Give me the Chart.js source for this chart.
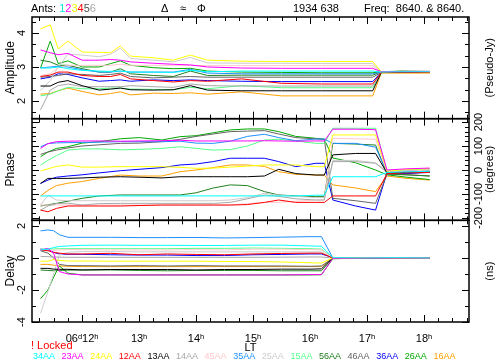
<!DOCTYPE html>
<html>
<head>
<meta charset="utf-8">
<script src="https://cdn.jsdelivr.net/npm/chart.js@4.4.0/dist/chart.umd.min.js"></script>
<style>
  body { margin: 0; background: #fff; }
  #wrap { position: relative; width: 500px; height: 364px; font-family: 'Liberation Sans', sans-serif; font-size: 11px; color: #000; }
  #wrap canvas { position: absolute; left: 0; top: 0; }
  .t { position: absolute; white-space: pre; line-height: 12px; }
  .leg { position: absolute; top: 351px; font-family: 'Liberation Sans Narrow', 'Liberation Sans', sans-serif; font-size: 9px; line-height: 10px; white-space: pre; }
</style>
</head>
<body>
<div id="wrap">
  <canvas id="chart" width="500" height="364"></canvas>
  <span class="t" style="left:31px;top:2px">Ants: <span style="color:#00e8e8">1</span><span style="color:#ff00ff">2</span><span style="color:#f0f000">3</span><span style="color:#ff0000">4</span><span style="color:#505050">5</span><span style="color:#a8a8a8">6</span></span>
  <span class="t" style="left:161px;top:2px">Δ</span>
  <span class="t" style="left:180px;top:2px">≈</span>
  <span class="t" style="left:197px;top:2px">Φ</span>
  <span class="t" style="left:293px;top:2px">1934 638</span>
  <span class="t" style="left:364px;top:2px">Freq:  8640. &amp; 8640.</span>
  <span class="t" style="left:31px;top:339px;color:#ff0000">! Locked</span>
  <div id="legend"></div>
</div>
<script>
// baselines in legend order
const baselines = ['34AA', '23AA', '24AA', '12AA', '13AA', '14AA', '45AA', '35AA', '25AA', '15AA', '56AA', '46AA', '36AA', '26AA', '16AA'];
const lineColors = ['#00ffff', '#ff00ff', '#ffff00', '#ff0000', '#000000', '#a8a8a8', '#ffc8cc', '#1e90ff',
                    '#cccccc', '#55ff88', '#208020', '#646464', '#0000ff', '#00a800', '#ffa000'];

// time in hours (LT)
const ampTimes   = [11.27, 11.44, 11.58, 11.75, 12.0, 12.3, 12.5, 12.67, 12.85, 13.25, 13.6, 13.9, 14.2, 14.8, 15.5, 16.2, 17.1, 17.25, 17.6, 18.1];
const phaseTimes = [11.27, 11.4, 11.55, 11.75, 12.0, 12.3, 12.67, 13.0, 13.4, 13.72, 14.0, 14.3, 14.6, 14.9, 15.2, 15.45, 15.75, 16.1, 16.25, 16.4, 16.8, 17.15, 17.35, 17.7, 18.1];
const delayTimes = [11.27, 11.4, 11.5, 11.6, 11.75, 12.0, 12.5, 13.0, 13.5, 14.0, 14.5, 15.0, 15.5, 16.0, 16.2, 16.4, 17.0, 17.5, 18.1];

// amplitude (Pseudo-Jy)
const amp34AA = [2.97, 2.97, 3.0, 2.95, 2.9, 2.88, 2.87, 2.88, 2.85, 2.85, 2.84, 2.9, 2.86, 2.88, 2.88, 2.88, 2.88, 2.85, 2.86, 2.86];
const amp23AA = [3.5, 3.42, 3.36, 3.4, 3.2, 3.2, 3.22, 3.2, 3.15, 3.11, 3.08, 3.06, 3.0, 2.97, 2.96, 2.96, 2.96, 2.86, 2.87, 2.87];
const amp24AA = [4.12, 4.24, 3.53, 3.76, 3.44, 3.43, 3.42, 3.62, 3.32, 3.27, 3.2, 3.35, 3.2, 3.17, 3.16, 3.16, 3.16, 2.86, 2.87, 2.86];
const amp12AA = [2.72, 2.76, 2.85, 2.85, 2.75, 2.72, 2.72, 2.78, 2.65, 2.6, 2.56, 2.6, 2.58, 2.65, 2.52, 2.5, 2.5, 2.84, 2.85, 2.84];
const amp13AA = [2.44, 2.44, 2.55, 2.6, 2.45, 2.32, 2.35, 2.38, 2.33, 2.32, 2.33, 2.45, 2.32, 2.3, 2.3, 2.3, 2.3, 2.84, 2.85, 2.85];
const amp14AA = [1.74, 2.32, 2.45, 2.5, 2.42, 2.42, 2.42, 2.42, 2.45, 2.42, 2.4, 2.5, 2.45, 2.44, 2.44, 2.44, 2.44, 2.84, 2.85, 2.85];
const amp45AA = [2.75, 2.8, 2.98, 3.05, 3.05, 3.05, 3.05, 3.08, 3.05, 3.05, 3.05, 3.05, 3.04, 3.04, 3.04, 3.04, 3.04, 2.84, 2.85, 2.85];
const amp35AA = [2.97, 3.0, 3.02, 3.0, 2.92, 2.85, 2.85, 2.88, 2.85, 2.85, 2.85, 2.93, 2.82, 2.8, 2.8, 2.8, 2.8, 2.85, 2.85, 2.84];
const amp25AA = [2.3, 2.6, 3.0, 3.38, 3.35, 3.3, 3.38, 3.55, 3.25, 3.2, 3.15, 3.28, 3.12, 3.11, 3.11, 3.1, 3.1, 2.85, 2.86, 2.86];
const amp15AA = [2.15, 2.2, 2.3, 2.4, 2.36, 2.36, 2.38, 2.38, 2.35, 2.34, 2.33, 2.4, 2.36, 2.45, 2.39, 2.39, 2.39, 2.83, 2.84, 2.84];
const amp56AA = [3.2, 3.15, 3.05, 3.05, 2.95, 2.85, 2.85, 2.95, 2.8, 2.75, 2.72, 2.88, 2.75, 2.76, 2.76, 2.76, 2.76, 2.86, 2.87, 2.86];
const amp46AA = [2.7, 2.72, 2.75, 2.8, 2.78, 2.75, 2.78, 2.82, 2.72, 2.68, 2.7, 2.72, 2.7, 2.7, 2.7, 2.7, 2.7, 2.84, 2.85, 2.85];
const amp36AA = [2.65, 2.7, 2.8, 2.78, 2.68, 2.58, 2.6, 2.62, 2.58, 2.62, 2.6, 2.62, 2.6, 2.58, 2.57, 2.57, 2.57, 2.85, 2.86, 2.85];
const amp26AA = [2.97, 3.76, 3.1, 3.18, 3.0, 3.0, 3.1, 3.18, 3.05, 2.98, 2.95, 2.96, 2.88, 2.85, 2.84, 2.83, 2.83, 2.86, 2.88, 2.87];
const amp16AA = [2.2, 2.22, 2.3, 2.38, 2.28, 2.18, 2.22, 2.27, 2.18, 2.23, 2.22, 2.24, 2.2, 2.27, 2.15, 2.15, 2.15, 2.82, 2.82, 2.82];

// phase (degrees)
const ph34AA = [-108, -108, -108, -108, -108, -108, -108, -108, -108, -108, -108, -108, -108, -108, -108, -108, -108, -105, -105, -28, -28, -28, -10, -8, -5];
const ph23AA = [90, 110, 118, 120, 121, 121, 120, 121, 122, 124, 121, 121, 121, 121, 122, 121, 120, 121, 121, 170, 170, 168, 0, 5, 8];
const ph24AA = [-4, 5, 15, 21, 12, 12, 14, 14, 14, 11, 7, 8, 12, 16, 21, 21, 21, 14, 14, 146, 146, 146, -5, 3, 5];
const ph12AA = [-167, -174, -160, -150, -150, -150, -150, -148, -146, -146, -146, -146, -146, -144, -135, -125, -135, -135, -135, -108, -108, -108, -15, -12, -10];
const ph13AA = [-56, -35, -35, -35, -33, -30, -28, -30, -33, -28, -28, -28, -28, -28, -25, 3, -15, -21, -21, 63, 69, 69, -12, -10, -8];
const ph14AA = [-167, -150, -140, -138, -146, -140, -139, -139, -139, -139, -139, -139, -135, -120, -104, -110, -120, -125, -125, 35, 35, 28, -10, -8, -5];
const ph45AA = [-146, -146, -146, -146, -146, -146, -146, -146, -146, -146, -146, -146, -146, -140, -135, -135, -130, -125, -125, 132, 130, 128, -8, -5, 0];
const ph35AA = [97, 110, 113, 114, 115, 116, 118, 118, 118, 120, 112, 111, 120, 140, 149, 135, 122, 129, 129, 111, 111, 95, -10, -5, 0];
const ph25AA = [-146, -105, -125, -128, -128, -128, -128, -128, -128, -128, -128, -128, -125, -115, -97, -105, -110, -115, -115, 40, 40, 30, -5, -3, 0];
const ph15AA = [21, 40, 60, 83, 88, 88, 84, 86, 90, 97, 90, 83, 85, 100, 125, 128, 121, 111, 111, 174, 174, 174, -5, 0, 5];
const ph56AA = [-150, -145, -139, -130, -118, -108, -104, -104, -104, -104, -95, -75, -62, -65, -90, -104, -108, -111, -111, 111, 108, 104, -15, -20, -25];
const ph46AA = [65, 75, 83, 92, 100, 105, 111, 112, 118, 128, 140, 150, 160, 162, 164, 150, 135, 130, 128, -118, -128, -139, -18, -20, -25];
const ph36AA = [-56, -42, -30, -25, -20, -12, -3, 3, 10, 21, 25, 35, 49, 49, 49, 35, 14, 28, 28, -125, -150, -167, -12, -15, -10];
const ph26AA = [55, 75, 90, 97, 112, 118, 130, 135, 125, 139, 143, 155, 167, 171, 171, 160, 140, 132, 128, 50, 30, 0, -20, -30, -40];
const ph16AA = [-108, -85, -65, -55, -48, -35, -21, -25, -25, -7, 0, 10, 21, 21, 15, -7, -18, -21, -21, -62, -75, -90, -25, -35, -42];

// delay (ns)
const dl34AA = [0.5, 0.55, 0.65, 0.72, 0.75, 0.79, 0.8, 0.79, 0.79, 0.78, 0.78, 0.8, 0.8, 0.75, 0.73, 0.02, 0.0, 0.02, 0.0];
const dl23AA = [0.5, 0.6, 0.3, -0.85, -1.0, -1.06, -1.06, -1.06, -1.06, -1.06, -1.06, -1.06, -1.06, -1.04, -1.04, -0.02, 0.0, 0.0, 0.0];
const dl24AA = [-0.2, -0.2, -0.1, -0.15, -0.19, -0.19, -0.2, -0.2, -0.2, -0.2, -0.22, -0.22, -0.25, -0.3, -0.32, 0.0, 0.02, 0.0, 0.0];
const dl12AA = [0.5, 0.45, 0.35, 0.3, 0.25, 0.25, 0.29, 0.2, 0.25, 0.22, 0.2, 0.25, 0.28, 0.3, 0.3, 0.0, 0.0, 0.02, 0.0];
const dl13AA = [-0.65, -0.65, -0.7, -0.71, -0.71, -0.75, -0.72, -0.72, -0.72, -0.75, -0.72, -0.72, -0.7, -0.7, -0.68, 0.0, 0.0, 0.0, 0.0];
const dl14AA = [0.1, 0.08, 0.06, 0.05, 0.04, 0.04, 0.04, 0.04, 0.04, 0.04, 0.04, 0.04, 0.05, 0.06, 0.06, 0.0, 0.0, 0.0, 0.0];
const dl45AA = [0.5, 0.5, 0.48, 0.5, 0.52, 0.52, 0.5, 0.5, 0.5, 0.52, 0.5, 0.55, 0.55, 0.52, 0.5, 0.0, 0.02, 0.0, 0.0];
const dl35AA = [1.69, 1.75, 1.7, 1.45, 1.29, 1.29, 1.29, 1.27, 1.27, 1.28, 1.25, 1.27, 1.3, 1.33, 1.33, 0.0, 0.0, 0.02, 0.0];
const dl25AA = [-3.46, -2.1, -1.0, 0.2, 0.35, 0.4, 0.4, 0.38, 0.38, 0.38, 0.38, 0.38, 0.38, 0.38, 0.38, 0.0, 0.0, 0.0, 0.0];
const dl15AA = [0.55, 0.56, 0.56, 0.58, 0.58, 0.58, 0.58, 0.58, 0.58, 0.6, 0.6, 0.62, 0.6, 0.58, 0.55, 0.0, 0.0, 0.0, 0.0];
const dl56AA = [-0.75, -0.78, -0.8, -0.78, -0.76, -0.75, -0.75, -0.78, -0.8, -0.78, -0.78, -0.78, -0.8, -0.8, -0.8, 0.0, 0.0, 0.0, 0.0];
const dl46AA = [0.45, 0.3, 0.0, -0.4, -0.48, -0.48, -0.5, -0.48, -0.5, -0.48, -0.5, -0.5, -0.5, -0.52, -0.5, -0.02, 0.0, 0.0, 0.0];
const dl36AA = [0.55, 0.5, 0.35, 0.25, 0.23, 0.23, 0.2, 0.18, 0.18, 0.15, 0.15, 0.2, 0.22, 0.25, 0.25, 0.02, 0.0, 0.0, 0.0];
const dl26AA = [-2.55, -2.0, -1.2, -0.5, -0.95, -1.06, -1.06, -1.06, -1.06, -1.06, -1.06, -1.06, -1.06, -1.06, -1.05, -0.05, 0.0, 0.0, 0.0];
const dl16AA = [-0.4, -0.4, -0.45, -0.5, -0.52, -0.54, -0.54, -0.54, -0.54, -0.54, -0.54, -0.54, -0.54, -0.54, -0.54, 0.0, 0.0, 0.0, 0.0];

// tick labels
const ampTickLabels = [4, 3, 2];
const phaseTickLabels = [-200, -100, 0, 100, 200];
const delayTickLabels = [2, 0, -2, -4];

const ampRows   = [amp34AA, amp23AA, amp24AA, amp12AA, amp13AA, amp14AA, amp45AA, amp35AA, amp25AA, amp15AA, amp56AA, amp46AA, amp36AA, amp26AA, amp16AA];
const phaseRows = [ph34AA, ph23AA, ph24AA, ph12AA, ph13AA, ph14AA, ph45AA, ph35AA, ph25AA, ph15AA, ph56AA, ph46AA, ph36AA, ph26AA, ph16AA];
const delayRows = [dl34AA, dl23AA, dl24AA, dl12AA, dl13AA, dl14AA, dl45AA, dl35AA, dl25AA, dl15AA, dl56AA, dl46AA, dl36AA, dl26AA, dl16AA];

const FONT = "'Liberation Sans', sans-serif";

function makeSets(rows, times, axis) {
    return rows.map((vals, i) => ({
        label: baselines[i] + ' ' + axis,
        data: times.map((t, k) => ({ x: t, y: vals[k] })),
        borderColor: lineColors[i],
        borderWidth: 1,
        pointRadius: 0,
        tension: 0,
        yAxisID: axis
    }));
}

function panelScale(min, max, weight, title) {
    return {
        type: 'linear', position: 'left', stack: 'panels', stackWeight: 1, weight: weight,
        min: min, max: max,
        ticks: { display: false },
        grid: { display: false },
        border: { display: false },
        title: { display: true, text: title, color: '#000', font: { family: FONT, size: 12 }, padding: { top: 3, bottom: 0 } },
        afterFit: function (s) { s.width = 32; }
    };
}

// panel decoration: frame, inward ticks, rotated labels
const panels = [
    { id: 'yA', minor: 1 / 3, major: 1, left: ampTickLabels, right: null, unit: '(Pseudo-Jy)' },
    { id: 'yP', minor: 20, major: 100, left: null, right: phaseTickLabels, unit: '(degrees)' },
    { id: 'yD', minor: 1, major: 2, left: delayTickLabels, right: null, unit: '(ns)' }
];

function rotText(ctx, txt, x, y) {
    ctx.save();
    ctx.translate(x, y);
    ctx.rotate(-Math.PI / 2);
    ctx.textAlign = 'center';
    ctx.textBaseline = 'middle';
    ctx.fillText(txt, 0, 0);
    ctx.restore();
}

const framePlugin = {
    id: 'frame',
    afterDraw(chart) {
        const ctx = chart.ctx, xs = chart.scales.x, area = chart.chartArea;
        const l = area.left, r = area.right;
        ctx.save();
        ctx.strokeStyle = '#000';
        ctx.fillStyle = '#000';
        ctx.font = '11px ' + FONT;
        panels.forEach(p => {
            const s = chart.scales[p.id];
            const top = s.top, bot = s.bottom;
            ctx.lineWidth = 1.5;
            ctx.strokeRect(l, top, r - l, bot - top);
            ctx.lineWidth = 1;
            ctx.beginPath();
            for (let k = Math.ceil(xs.min * 4); k / 4 <= xs.max; k++) {
                const px = Math.round(xs.getPixelForValue(k / 4)) + 0.5;
                const len = k % 4 === 0 ? 7 : 4;
                ctx.moveTo(px, top); ctx.lineTo(px, top + len);
                ctx.moveTo(px, bot); ctx.lineTo(px, bot - len);
            }
            for (let k = Math.ceil(s.min / p.minor - 1e-9); k * p.minor <= s.max + 1e-9; k++) {
                const v = k * p.minor;
                const py = Math.round(s.getPixelForValue(v)) + 0.5;
                const len = Math.abs(v / p.major - Math.round(v / p.major)) < 1e-6 ? 7 : 4;
                ctx.moveTo(l, py); ctx.lineTo(l + len, py);
                ctx.moveTo(r, py); ctx.lineTo(r - len, py);
            }
            ctx.stroke();
            if (p.left) p.left.forEach(v => rotText(ctx, String(v), 22, s.getPixelForValue(v)));
            if (p.right) p.right.forEach(v => rotText(ctx, String(v), 479, s.getPixelForValue(v)));
            rotText(ctx, p.unit, 490, (top + bot) / 2);
        });
        ctx.restore();
    }
};

const hourLabel = v => {
    if (Math.abs(v - Math.round(v)) > 1e-6) return '';
    const h = Math.round(v);
    return h === 12 ? '06ᵈ12ʰ' : h + 'ʰ';
};

new Chart(document.getElementById('chart'), {
    type: 'line',
    data: {
        datasets: [].concat(
            makeSets(ampRows, ampTimes, 'yA'),
            makeSets(phaseRows, phaseTimes, 'yP'),
            makeSets(delayRows, delayTimes, 'yD')
        )
    },
    options: {
        responsive: false,
        animation: false,
        layout: { padding: { top: 17, right: 31, left: 0, bottom: 0 } },
        plugins: { legend: { display: false }, tooltip: { enabled: false } },
        scales: {
            x: {
                type: 'linear', position: 'bottom', min: 11.12, max: 18.79,
                ticks: {
                    stepSize: 0.25, includeBounds: false, autoSkip: false, maxRotation: 0, minRotation: 0,
                    padding: 10, color: '#000', font: { family: FONT, size: 11 }, callback: hourLabel
                },
                grid: { display: false, drawTicks: false },
                border: { display: false },
                title: { display: true, text: 'LT', color: '#000', font: { family: FONT, size: 11 }, padding: { top: 0, bottom: 9 } },
                afterFit: function (s) { s.height = 42; }
            },
            yA: panelScale(1.48, 4.47, 3, 'Amplitude'),
            yP: panelScale(-209.7, 213.9, 2, 'Phase'),
            yD: panelScale(-4, 2.35, 1, 'Delay')
        }
    },
    plugins: [framePlugin]
});

// baseline legend
const legend = document.getElementById('legend');
baselines.forEach((b, i) => {
    const sp = document.createElement('span');
    sp.className = 'leg';
    sp.style.left = (33 + i * 28.6) + 'px';
    sp.style.color = lineColors[i];
    sp.textContent = b;
    legend.appendChild(sp);
});
</script>
</body>
</html>
